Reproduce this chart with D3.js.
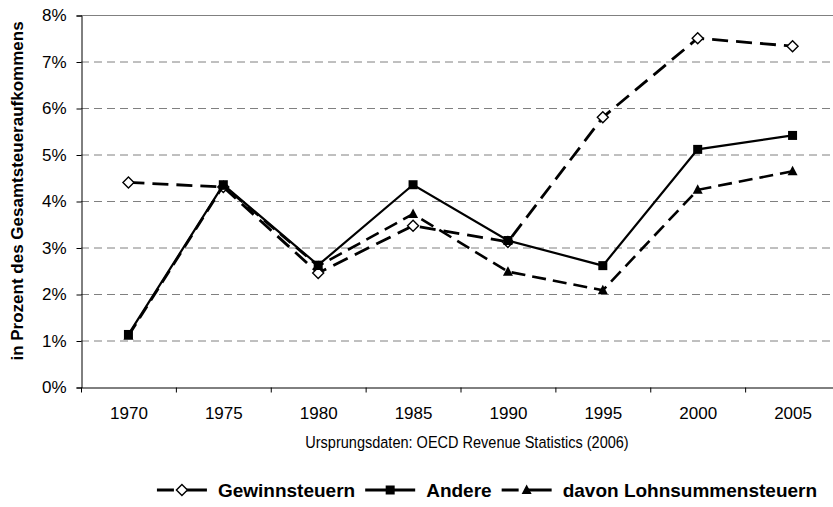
<!DOCTYPE html>
<html>
<head>
<meta charset="utf-8">
<title>Steueranteile</title>
<script src="https://d3js.org/d3.v7.min.js"></script>
<style>
  body { margin: 0; background: #fff; }
  svg { display: block; font-family: "Liberation Sans", Arial, sans-serif; }
  .grid line { stroke: #808080; stroke-dasharray: 8 5; }
  .axis path, .axis line { stroke: #000; }
  .axis text { font-size: 17px; fill: #000; }
</style>
</head>
<body>
<script>
// Daten
var years = ["1970", "1975", "1980", "1985", "1990", "1995", "2000", "2005"];
var gewinn = [4.4, 4.3, 2.45, 3.47, 3.12, 5.8, 7.5, 7.33];
var andere = [1.13, 4.35, 2.62, 4.35, 3.15, 2.61, 5.11, 5.41];
var lohn = [1.1, 4.33, 2.6, 3.72, 2.48, 2.08, 4.24, 4.64];
var yTicks = [0, 1, 2, 3, 4, 5, 6, 7, 8];
var seriesNames = ["Gewinnsteuern", "Andere", "davon Lohnsummensteuern"];

var w = 833, h = 507;
var svg = d3.select("body").append("svg")
    .attr("width", w)
    .attr("height", h);

var x = d3.scaleBand().domain(years).range([81, 840]);
var y = d3.scaleLinear().domain([0, 8]).range([387, 15]);

// gridlines
svg.append("g")
    .attr("class", "grid")
    .selectAll("line")
    .data(yTicks.filter(function(d) { return d > 0 && d < 8; }))
    .enter().append("line")
    .attr("x1", 81).attr("x2", 840)
    .attr("y1", function(d) { return y(d) + 0.5; })
    .attr("y2", function(d) { return y(d) + 0.5; });

// top border line
svg.append("line")
    .attr("x1", 81).attr("x2", 840)
    .attr("y1", y(8) + 0.5).attr("y2", y(8) + 0.5)
    .attr("stroke", "#808080");

// axes
svg.append("g")
    .attr("class", "axis")
    .attr("transform", "translate(81.5,0.5)")
    .call(d3.axisLeft(y).tickValues(yTicks).tickSize(5).tickPadding(10)
        .tickFormat(function(d) { return d + "%"; }));

var xAxis = svg.append("g")
    .attr("class", "axis")
    .attr("transform", "translate(0.5," + (y(0) + 0.5) + ")")
    .call(d3.axisBottom(x).tickSize(0).tickPadding(19).tickSizeOuter(0));

// tick marks between categories
xAxis.selectAll("line.sep")
    .data(years)
    .enter().append("line")
    .attr("class", "sep")
    .attr("x1", function(d) { return x(d); })
    .attr("x2", function(d) { return x(d); })
    .attr("y1", 0).attr("y2", 5);

// y axis title
svg.append("text")
    .attr("transform", "translate(23," + ((y(0) + y(8)) / 2 - 10) + ") rotate(-90)")
    .attr("text-anchor", "middle")
    .style("font-size", "17px")
    .style("font-weight", "bold")
    .text("in Prozent des Gesamtsteueraufkommens");

// source caption (slightly condensed like the original)
svg.append("text")
    .attr("transform", "translate(467,448) scale(0.88,1)")
    .attr("text-anchor", "middle")
    .style("font-size", "16.5px")
    .text("Ursprungsdaten: OECD Revenue Statistics (2006)");

var line = d3.line()
    .x(function(d, i) { return x(years[i]) + x.bandwidth() / 2; })
    .y(function(d) { return y(d); });

var styles = [
    { data: gewinn, dash: "16 8", width: 2.8, marker: "diamond" },
    { data: andere, dash: null, width: 2.2, marker: "square" },
    { data: lohn, dash: "14 7", width: 2.6, marker: "triangle" }
];

function drawMarker(g, type) {
    if (type === "diamond") {
        g.append("path").attr("d", "M0,-5.5L5.5,0L0,5.5L-5.5,0Z")
            .attr("fill", "#fff").attr("stroke", "#000").attr("stroke-width", 1.4);
    } else if (type === "square") {
        g.append("rect").attr("x", -4.5).attr("y", -4.5)
            .attr("width", 9).attr("height", 9).attr("fill", "#000");
    } else {
        g.append("path").attr("d", "M0,-5.5L5,4L-5,4Z").attr("fill", "#000");
    }
}

// draw order: Gewinn, Lohn, Andere
[0, 2, 1].forEach(function(k) {
    var s = styles[k];
    svg.append("path")
        .datum(s.data)
        .attr("fill", "none")
        .attr("stroke", "#000")
        .attr("stroke-width", s.width)
        .attr("stroke-dasharray", s.dash)
        .attr("d", line);
    s.data.forEach(function(v, i) {
        var g = svg.append("g")
            .attr("transform", "translate(" + (x(years[i]) + x.bandwidth() / 2) + "," + y(v) + ")");
        drawMarker(g, s.marker);
    });
});

// legend
var legend = svg.append("g").attr("class", "legend");
var lx = 0, ly = 490, symW = 50;
styles.forEach(function(s, k) {
    var item = legend.append("g").attr("transform", "translate(" + lx + "," + ly + ")");
    if (s.dash) {
        item.append("line").attr("x1", 0).attr("x2", 17)
            .attr("stroke", "#000").attr("stroke-width", 3);
        item.append("line").attr("x1", 25).attr("x2", symW)
            .attr("stroke", "#000").attr("stroke-width", 3);
    } else {
        item.append("line").attr("x1", 0).attr("x2", symW)
            .attr("stroke", "#000").attr("stroke-width", 3);
    }
    var m = item.append("g").attr("transform", "translate(" + (symW / 2) + ",0)");
    drawMarker(m, s.marker);
    var t = item.append("text")
        .attr("x", symW + 11)
        .attr("y", 7)
        .style("font-size", "19px")
        .style("font-weight", "bold")
        .text(seriesNames[k]);
    lx += symW + 11 + t.node().getComputedTextLength() + 10;
});
var lw = lx - 10;
legend.attr("transform", "translate(" + (487 - lw / 2) + ",0)");
</script>
</body>
</html>
